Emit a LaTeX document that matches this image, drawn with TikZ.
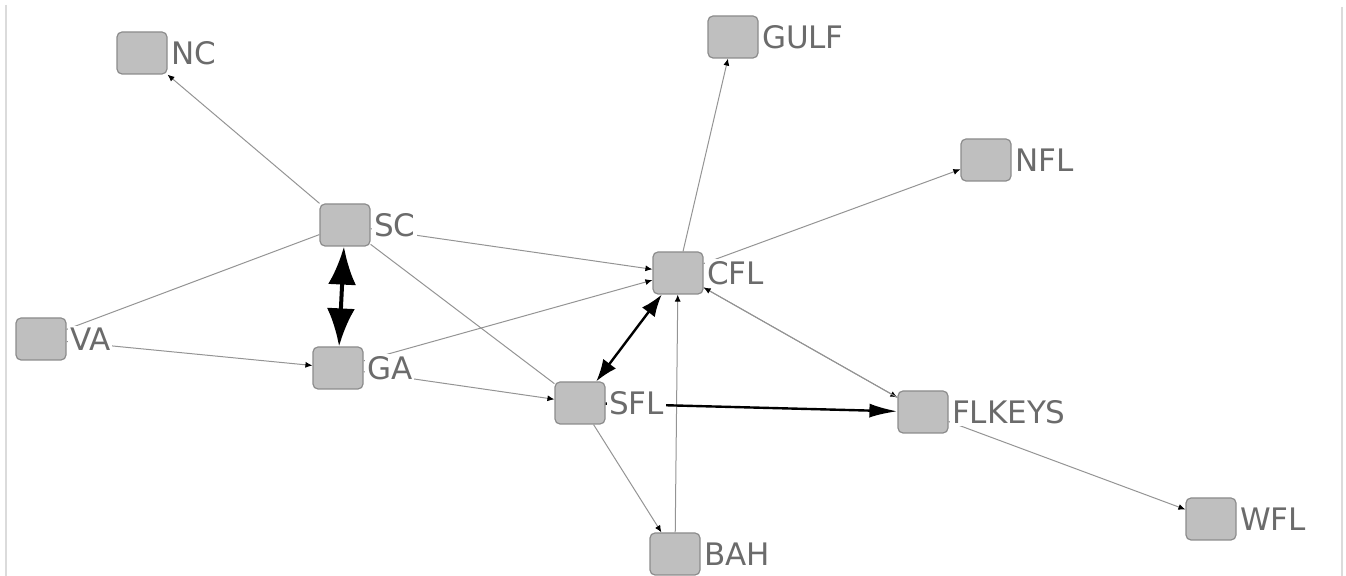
\documentclass[tikz,border=0pt]{standalone}
\usepackage{fontspec}
\setmainfont{DejaVu Sans}
\usetikzlibrary{positioning}
\usetikzlibrary{arrows.meta}

\begin{document}
\begin{tikzpicture}[x = 0.5pt, y = -0.5pt,
		box/.style = {draw = gray!90, fill = gray!50, line width = 0.6pt, rounded corners = 2.5pt, minimum width = 25pt, minimum height = 21pt, inner sep = 0pt},
		tag/.style = {fill = white, text = black!58, inner sep = 1pt, font = \fontsize{15.5}{18}\selectfont},
		link/.style = {draw = black!42, line width = 0.5pt, -{Latex[length = 3.5pt, width = 3pt, color = black]}},
		plain/.style = {draw = black!42, line width = 0.5pt},
		strong/.style = {draw = black, line width = 1.2pt}]
	\useasboundingbox (0, 0) rectangle (1346, 576);
	\draw [black!14, line width = 1pt] (6, 5)--(6, 576);
	\draw [black!14, line width = 1pt] (1342, 7)--(1342, 576);
	% boxes
	\node [box] (nc) at (142, 53) {};
	\node [box] (gulf) at (733, 37) {};
	\node [box] (nfl) at (986, 160) {};
	\node [box] (sc) at (345, 225) {};
	\node [box] (cfl) at (678, 273) {};
	\node [box] (va) at (41, 339) {};
	\node [box] (ga) at (338, 368) {};
	\node [box] (sfl) at (580, 403) {};
	\node [box] (flkeys) at (923, 412) {};
	\node [box] (wfl) at (1211, 519) {};
	\node [box] (bah) at (675, 554) {};
	% thin edges
	\draw [link] (sc)--(nc);
	\draw [link] (cfl)--(gulf);
	\draw [link] (cfl)--(nfl);
	\draw [link] (sc)--(cfl);
	\draw [link] (ga)--(cfl);
	\draw [plain] (va)--(sc);
	\draw [link] (va)--(ga);
	\draw [plain] (sc)--(sfl);
	\draw [link] (ga)--(sfl);
	\draw [link] (bah)--(cfl);
	\draw [link] (sfl)--(bah);
	\draw [link] (cfl)--(flkeys);
	\draw [link] (flkeys)--(cfl);
	\draw [link] (flkeys)--(wfl);
	% heavy edges
	\draw [strong, line width = 2pt, {Latex[length = 19pt, width = 14pt]}-{Latex[length = 19pt, width = 14pt]}] (sc)--(ga);
	\draw [strong, {Latex[length = 11pt, width = 8pt]}-{Latex[length = 11pt, width = 8pt]}] (cfl)--(sfl);
	\draw [strong, -{Latex[length = 14pt, width = 7pt]}] (sfl)--(flkeys);
	% labels
	\node [tag, right = 0.5pt of nc] (nc-l) {NC};
	\node [tag, right = 0.5pt of gulf] (gulf-l) {GULF};
	\node [tag, right = 0.5pt of nfl] (nfl-l) {NFL};
	\node [tag, right = 0.5pt of sc] (sc-l) {SC};
	\node [tag, right = 0.5pt of cfl] (cfl-l) {CFL};
	\node [tag, right = 0.5pt of va] (va-l) {VA};
	\node [tag, right = 0.5pt of ga] (ga-l) {GA};
	\node [tag, right = 0.5pt of sfl] (sfl-l) {SFL};
	\node [tag, right = 0.5pt of flkeys] (flkeys-l) {FLKEYS};
	\node [tag, right = 0.5pt of wfl] (wfl-l) {WFL};
	\node [tag, right = 0.5pt of bah] (bah-l) {BAH};
\end{tikzpicture}
\end{document}
